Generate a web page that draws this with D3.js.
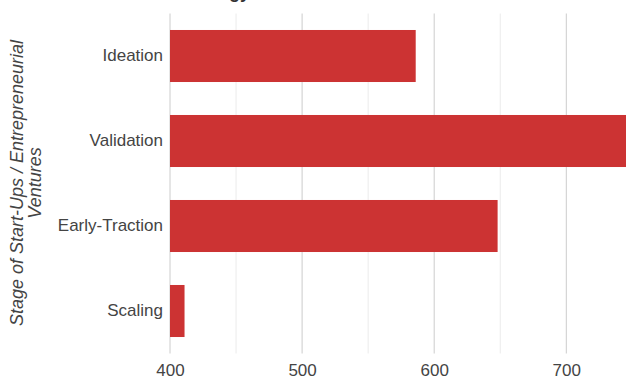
<!DOCTYPE html>
<html>
<head>
<meta charset="utf-8">
<script src="https://cdn.jsdelivr.net/npm/d3@7/dist/d3.min.js"></script>
<style>
  html, body { margin: 0; padding: 0; background: #fff; overflow: hidden; }
  svg { display: block; font-family: "Liberation Sans", Arial, sans-serif; }
</style>
</head>
<body>
<div id="chart"></div>
<script>
// Stages and their counts
const stages = ["Ideation", "Validation", "Early-Traction", "Scaling"];
const counts = [586, 790, 648, 411];
const majorTicks = [400, 500, 600, 700, 800];
const tickLabels = [400, 500, 600, 700];
const minorTicks = [450, 550, 650, 750];
const chartTitle = "Technology";
const axisTitleLines = ["Stage of Start-Ups / Entrepreneurial", "Ventures"];

const width = 700, height = 383;
const svg = d3.select("#chart").append("svg")
  .attr("width", width).attr("height", height);

const x = d3.scaleLinear().domain([400, 800]).range([170, 698.4]);
const y = d3.scaleBand().domain(stages).range([13.5, 353.5])
  .paddingInner(0.388).paddingOuter(0.194);

// gridlines
svg.append("g").selectAll("line").data(minorTicks).join("line")
  .attr("x1", d => x(d)).attr("x2", d => x(d))
  .attr("y1", 13.5).attr("y2", 353.5)
  .attr("stroke", "#ebebeb").attr("stroke-width", 1);
svg.append("g").selectAll("line").data(majorTicks).join("line")
  .attr("x1", d => x(d)).attr("x2", d => x(d))
  .attr("y1", 13.5).attr("y2", 353.5)
  .attr("stroke", "#cccccc").attr("stroke-width", 1);

// bars
svg.append("g").selectAll("rect").data(stages).join("rect")
  .attr("x", x(400))
  .attr("y", d => y(d))
  .attr("width", (d, i) => x(counts[i]) - x(400))
  .attr("height", y.bandwidth())
  .attr("fill", "#cc3333");

// x axis tick labels
const xAxis = d3.axisBottom(x).tickValues(tickLabels).tickSize(0).tickPadding(0);
const gx = svg.append("g").attr("transform", "translate(0,364)").call(xAxis);
gx.select(".domain").remove();
gx.selectAll("text").attr("font-size", 17).attr("fill", "#444")
  .attr("font-family", "Liberation Sans, Arial, sans-serif");

// y axis category labels
const yAxis = d3.axisLeft(y).tickSize(0).tickPadding(7);
const gy = svg.append("g").attr("transform", "translate(170,0)").call(yAxis);
gy.select(".domain").remove();
gy.selectAll("text").attr("font-size", 17).attr("fill", "#444")
  .attr("font-family", "Liberation Sans, Arial, sans-serif");

// y axis title
const yt = svg.append("text")
  .attr("transform", "translate(23,183) rotate(-90)")
  .attr("text-anchor", "middle")
  .attr("font-size", 18).attr("font-style", "italic").attr("fill", "#444");
axisTitleLines.forEach((t, i) => {
  yt.append("tspan").attr("x", 0).attr("dy", i === 0 ? 0 : 18).text(t);
});

// chart title, sitting above the visible area
svg.append("text")
  .attr("x", 250).attr("y", -2)
  .attr("text-anchor", "end")
  .attr("font-size", 18).attr("font-weight", "bold").attr("fill", "#333")
  .text(chartTitle);
</script>
</body>
</html>
